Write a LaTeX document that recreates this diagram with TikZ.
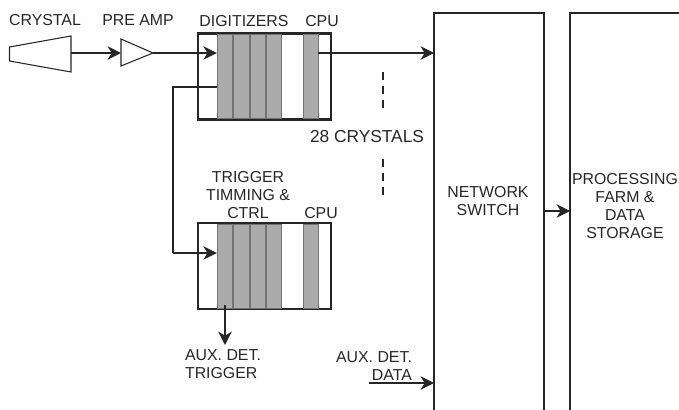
\documentclass[tikz,border=0pt]{standalone}
\usepackage{fontspec}
\setmainfont{Liberation Sans}
\usepackage{xcolor}
\usetikzlibrary{arrows.meta,positioning,calc}

\definecolor{slotgray}{HTML}{ABABAB}
\definecolor{inkgray}{HTML}{262626}

\tikzset{
    label/.style={inner sep=0pt, align=center, text=inkgray, font=\fontsize{11.9}{13.5}\selectfont},
    crate/.style={draw=black!85, line width=1.6pt, fill=white, minimum width=100pt, minimum height=64.5pt, inner sep=0pt, outer sep=0pt},
    slot/.style={draw=black!55, line width=0.3pt, fill=slotgray, minimum width=11.6pt, minimum height=63pt, inner sep=0pt, outer sep=0pt},
    sig/.style={line width=1.3pt, black!85, -{Stealth[length=10pt,width=10pt,inset=3pt]}},
    wire/.style={line width=0.8pt, black!85},
    wall/.style={line width=1.5pt, black!85},
    dots/.style={line width=1.6pt, black!85, dash pattern=on 6pt off 4.5pt}
}

\begin{document}
\begin{tikzpicture}[x=0.75pt, y=-0.75pt]
    \useasboundingbox (0,0) rectangle (679,410);

    % Crystal and pre amp
    \draw[wire] (9.5,47) -- (71,36) -- (71,72) -- (9.5,61) -- cycle;
    \coordinate (crystalOut) at (71,53);
    \draw[wire] (121,39) -- (153,53) -- (121,66) -- cycle;
    \coordinate (ampIn) at (121,53);
    \coordinate (ampOut) at (153,53);
    \node[label] (crystalLabel) at (45,20) {CRYSTAL};
    \node[label] (ampLabel) at (138,20) {PRE AMP};

    % Crates
    \node[crate] (digi) at (264.5,76.5) {};
    \node[crate] (trig) at (264.5,266) {};
    \foreach \crate in {digi,trig} {
        \foreach \name/\xpos in {a/224.5,b/241,c/257.5,d/273.5,e/310.5} {
            \node[slot] (\crate\name) at ($(\crate.center)+(\xpos-264.5,0)$) {};
        }
    }

    % Crate labels
    \node[label] (digiLabel) at (244,21) {DIGITIZERS};
    \node[label] (digiCpu) at (322,21) {CPU};
    \node[label] (trigLabel) at (248,195) {TRIGGER\\TIMMING \&\\CTRL};
    \node[label] (trigCpu) at (321,213) {CPU};

    % Network switch and farm, both run off the page
    \coordinate (swBL) at (434,410);
    \coordinate (swTL) at (434,13);
    \coordinate (swTR) at (544,13);
    \coordinate (swBR) at (544,410);
    \draw[wall] (swBL) -- (swTL) -- (swTR) -- (swBR);
    \coordinate (farmBL) at (570,410);
    \coordinate (farmTL) at (570,13);
    \coordinate (farmTR) at (679,13);
    \draw[wall] (farmBL) -- (farmTL) -- (farmTR);
    \node[label] (swLabel) at (488,201) {NETWORK\\SWITCH};
    \node[label] (farmLabel) at (625,206) {PROCESSING\\FARM \&\\DATA\\STORAGE};

    % Signals
    \draw[sig] (crystalOut) -- (ampIn);
    \draw[sig] (ampOut) -- (digia.west |- ampOut);
    \draw[sig] (digie.east |- ampOut) -- (swTL |- ampOut);
    \coordinate (tapOut) at ($(digia.west)+(0,10.5)$);
    \coordinate (trigIn) at (173,253);
    \draw[wire] (tapOut) -- (trigIn |- tapOut) -- (trigIn);
    \draw[sig] (trigIn) -- (triga.west |- trigIn);
    \coordinate (auxTrigTop) at (225,305);
    \coordinate (auxTrigEnd) at (225,345);
    \draw[sig] (auxTrigTop) -- (auxTrigEnd);
    \coordinate (auxDataIn) at (369,383);
    \draw[sig] (auxDataIn) -- (swTL |- auxDataIn);
    \coordinate (swOut) at (544,211);
    \draw[sig] (swOut) -- (farmTL |- swOut);

    % Bus continuation marks
    \coordinate (dotsA) at (383,72);
    \coordinate (dotsB) at (383,108);
    \coordinate (dotsC) at (383,159);
    \coordinate (dotsD) at (383,195);
    \draw[dots] (dotsA) -- (dotsB);
    \draw[dots] (dotsC) -- (dotsD);
    \node[label, font=\fontsize{13}{13.5}\selectfont] (countLabel) at (367,137) {28 CRYSTALS};

    % Aux labels
    \node[label, align=left] (auxTrigLabel) at (223,364) {AUX. DET.\\TRIGGER};
    \node[label, align=right] (auxDataLabel) at (374,366) {AUX. DET.\\DATA};
\end{tikzpicture}
\end{document}
